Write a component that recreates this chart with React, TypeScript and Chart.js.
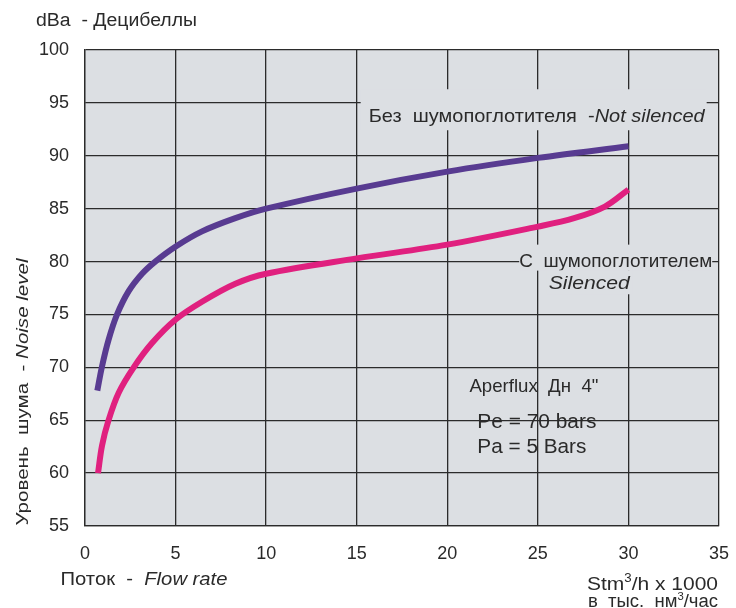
import React from "react";
import { Chart, registerables, ChartItem } from "chart.js";

Chart.register(...registerables);

// Без шумопоглотителя - Not silenced
const notSilencedFlow = [0.68, 0.94, 1.3, 1.77, 2.41, 3.15, 3.88, 4.99, 6.46, 8.3, 10, 15, 20, 25, 30];
const notSilencedDb = [67.8, 70.1, 72.6, 75.0, 77.2, 78.85, 80.0, 81.4, 82.85, 84.1, 85.0, 86.9, 88.5, 89.8, 90.9];

// С шумопоглотителем - Silenced
const silencedFlow = [0.72, 0.94, 1.3, 1.86, 2.69, 3.7, 4.99, 6.46, 8.3, 10, 15, 20, 25, 27, 28.7, 30];
const silencedDb = [60.0, 62.6, 65.0, 67.6, 70.0, 72.3, 74.5, 76.2, 77.9, 78.85, 80.3, 81.6, 83.3, 84.1, 85.2, 86.8];

const flowRange = [0, 35];
const dbRange = [55, 100];
const tickStep = 5;

const FONT = "'Liberation Sans', Arial, sans-serif";
const TEXT = "#2a2a2a";
const PLOT_BG = "#dcdfe3";
const GRID = "#2b2b2b";

type Run = { text: string; italic?: boolean; sup?: boolean };

// draws a row of text pieces (some italic / superscript), stretched to a given width
function drawRuns(
  ctx: CanvasRenderingContext2D,
  runs: Run[],
  x: number,
  y: number,
  size: number,
  width: number,
  align: "left" | "right" = "left"
) {
  const fontOf = (r: Run) => `${r.italic ? "italic " : ""}${r.sup ? Math.round(size * 0.62) : size}px ${FONT}`;
  let total = 0;
  const widths = runs.map((r) => {
    ctx.font = fontOf(r);
    const w = ctx.measureText(r.text).width;
    total += w;
    return w;
  });
  const k = width / total;
  const x0 = align === "right" ? x - width : x;
  ctx.save();
  ctx.translate(x0, y);
  ctx.scale(k, 1);
  ctx.fillStyle = TEXT;
  ctx.textBaseline = "alphabetic";
  ctx.textAlign = "left";
  let cx = 0;
  runs.forEach((r, i) => {
    ctx.font = fontOf(r);
    ctx.fillText(r.text, cx, r.sup ? -size * 0.4 : 0);
    cx += widths[i];
  });
  ctx.restore();
}

function clearBox(ctx: CanvasRenderingContext2D, x: number, y: number, w: number, h: number) {
  ctx.fillStyle = PLOT_BG;
  ctx.fillRect(x, y, w, h);
}

const plotBg = {
  id: "plotBg",
  beforeDraw(chart: Chart) {
    const { ctx, chartArea: a } = chart;
    ctx.save();
    ctx.fillStyle = PLOT_BG;
    ctx.fillRect(a.left, a.top, a.width, a.height);
    ctx.restore();
  },
};

const labels = {
  id: "labels",
  afterDraw(chart: Chart) {
    const { ctx, chartArea: a } = chart;
    const xs = chart.scales.x;
    const ys = chart.scales.y;
    const px = (v: number) => xs.getPixelForValue(v);
    const py = (v: number) => ys.getPixelForValue(v);
    ctx.save();

    // axis titles
    drawRuns(ctx, [{ text: "dBa  - Децибеллы" }], 36, a.top - 24, 18, 161);
    drawRuns(ctx, [{ text: "Поток  -  " }, { text: "Flow rate", italic: true }], 60.5, a.bottom + 59, 19, 167);
    drawRuns(ctx, [{ text: "Stm" }, { text: "3", sup: true }, { text: "/h x 1000" }], a.right - 1, a.bottom + 64, 19, 131, "right");
    drawRuns(ctx, [{ text: "в  тыс.  нм" }, { text: "3", sup: true }, { text: "/час" }], a.right - 1, a.bottom + 81, 18, 130, "right");

    ctx.save();
    ctx.translate(27.5, (a.bottom + 258) / 2);
    ctx.rotate(-Math.PI / 2);
    drawRuns(ctx, [{ text: "Уровень  шума  - " }, { text: "Noise level", italic: true }], -133.5, 0, 16, 267);
    ctx.restore();

    // series names inside the plot, on boxes that hide the grid
    const bx = px(15.66);
    const by = py(93.17);
    clearBox(ctx, bx - 8, by - 33, 346, 41);
    drawRuns(ctx, [{ text: "Без  шумопоглотителя  -" }, { text: "Not silenced", italic: true }], bx, by, 18.5, 336);

    const cx = px(23.97);
    const cy = py(79.52);
    clearBox(ctx, cx, cy - 22, 193, 26);
    drawRuns(ctx, [{ text: "С  шумопоглотителем" }], cx, cy, 18.5, 193);

    const sx = px(25.6);
    const sy = py(77.38);
    clearBox(ctx, sx - 2, sy - 19, 86, 24);
    drawRuns(ctx, [{ text: "Silenced", italic: true }], sx, sy, 18.5, 81);

    // device notes
    drawRuns(ctx, [{ text: "Aperflux  Дн  4\"" }], px(21.22), py(67.7), 19, 129);
    drawRuns(ctx, [{ text: "Pe = 70 bars" }], px(21.66), py(64.28), 20.5, 119);
    drawRuns(ctx, [{ text: "Pa = 5 Bars" }], px(21.66), py(61.88), 20.5, 109);
    ctx.restore();
  },
};

const App: React.FC = () => {
  const canvasRef = React.useRef<HTMLCanvasElement>(null);

  React.useEffect(() => {
    document.body.style.margin = "0";
    const chart = new Chart(canvasRef.current as ChartItem, {
      type: "line",
      data: {
        datasets: [
          {
            label: "Без шумопоглотителя - Not silenced",
            data: notSilencedFlow.map((x, i) => ({ x, y: notSilencedDb[i] })),
            borderColor: "#583b91",
            borderWidth: 6,
            pointRadius: 0,
            tension: 0.35,
            fill: false,
          },
          {
            label: "С шумопоглотителем - Silenced",
            data: silencedFlow.map((x, i) => ({ x, y: silencedDb[i] })),
            borderColor: "#e0207f",
            borderWidth: 6,
            pointRadius: 0,
            tension: 0.35,
            fill: false,
          },
        ],
      },
      options: {
        animation: false,
        responsive: true,
        maintainAspectRatio: false,
        layout: { padding: { left: 0, top: 50, right: 17, bottom: 0 } },
        plugins: { legend: { display: false }, tooltip: { enabled: false } },
        scales: {
          x: {
            type: "linear",
            min: flowRange[0],
            max: flowRange[1],
            ticks: { stepSize: tickStep, color: TEXT, font: { family: FONT, size: 18 }, padding: 17, maxRotation: 0 },
            grid: { color: GRID, lineWidth: 1.3, drawTicks: false },
            border: { color: GRID, width: 1.3 },
            afterFit: (s: any) => {
              s.height = 82;
              s.paddingLeft = 0;
              s.paddingRight = 0;
            },
          },
          y: {
            type: "linear",
            min: dbRange[0],
            max: dbRange[1],
            ticks: { stepSize: tickStep, color: TEXT, font: { family: FONT, size: 18 }, padding: 16 },
            grid: { color: GRID, lineWidth: 1.3, drawTicks: false },
            border: { color: GRID, width: 1.3 },
            afterFit: (s: any) => {
              s.width = 85;
              s.paddingTop = 0;
              s.paddingBottom = 0;
            },
          },
        },
      },
      plugins: [plotBg, labels],
    });

    return () => {
      chart.destroy();
    };
  }, []);

  return (
    <div style={{ position: "absolute", left: 0, top: 0, width: 736, height: 608 }}>
      <canvas ref={canvasRef}></canvas>
    </div>
  );
};

export default App;
